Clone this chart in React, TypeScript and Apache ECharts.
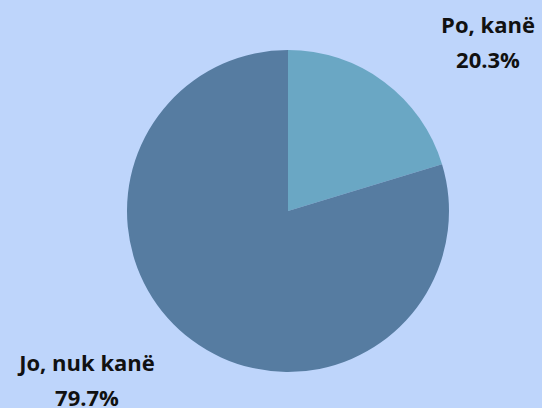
import React, { useEffect, useRef } from "react";
import * as echarts from "echarts";

const categories = ["Po, kanë", "Jo, nuk kanë"];
const values = [20.3, 79.7];
const colors = ["#6aa7c4", "#567ca1"];

const CX = 288;
const CY = 211;
const R = 161;

export default function App() {
  const ref = useRef<HTMLDivElement>(null);
  useEffect(() => {
    if (!ref.current) return;
    const chart = echarts.init(ref.current, null, { renderer: "svg" });
    chart.setOption({
      animation: false,
      backgroundColor: "#bed5fb",
      series: [
        {
          type: "pie",
          center: [CX, CY],
          radius: R,
          startAngle: 90,
          clockwise: true,
          data: categories.map((c, i) => ({
            name: c,
            value: values[i],
            itemStyle: { color: colors[i] },
          })),
          label: {
            show: true,
            position: "outside",
            formatter: (p: any) => `${p.name}\n${p.value.toFixed(1)}%`,
            fontFamily: "Open Sans",
            fontWeight: "bold",
            fontSize: 22,
            lineHeight: 35,
            color: "#111111",
            align: "center",
          },
          labelLine: { show: false },
          labelLayout: (p: any) => {
            const first = p.dataIndex === 0;
            return {
              x: first ? CX + 200 : CX - 201,
              y: first ? CY - 170 : CY + 168,
              align: "center",
              verticalAlign: "middle",
            };
          },
          emphasis: { disabled: true },
        },
      ],
    });
    return () => chart.dispose();
  }, []);
  return (
    <div
      ref={ref}
      style={{ position: "fixed", left: 0, top: 0, width: 542, height: 408 }}
    />
  );
}
